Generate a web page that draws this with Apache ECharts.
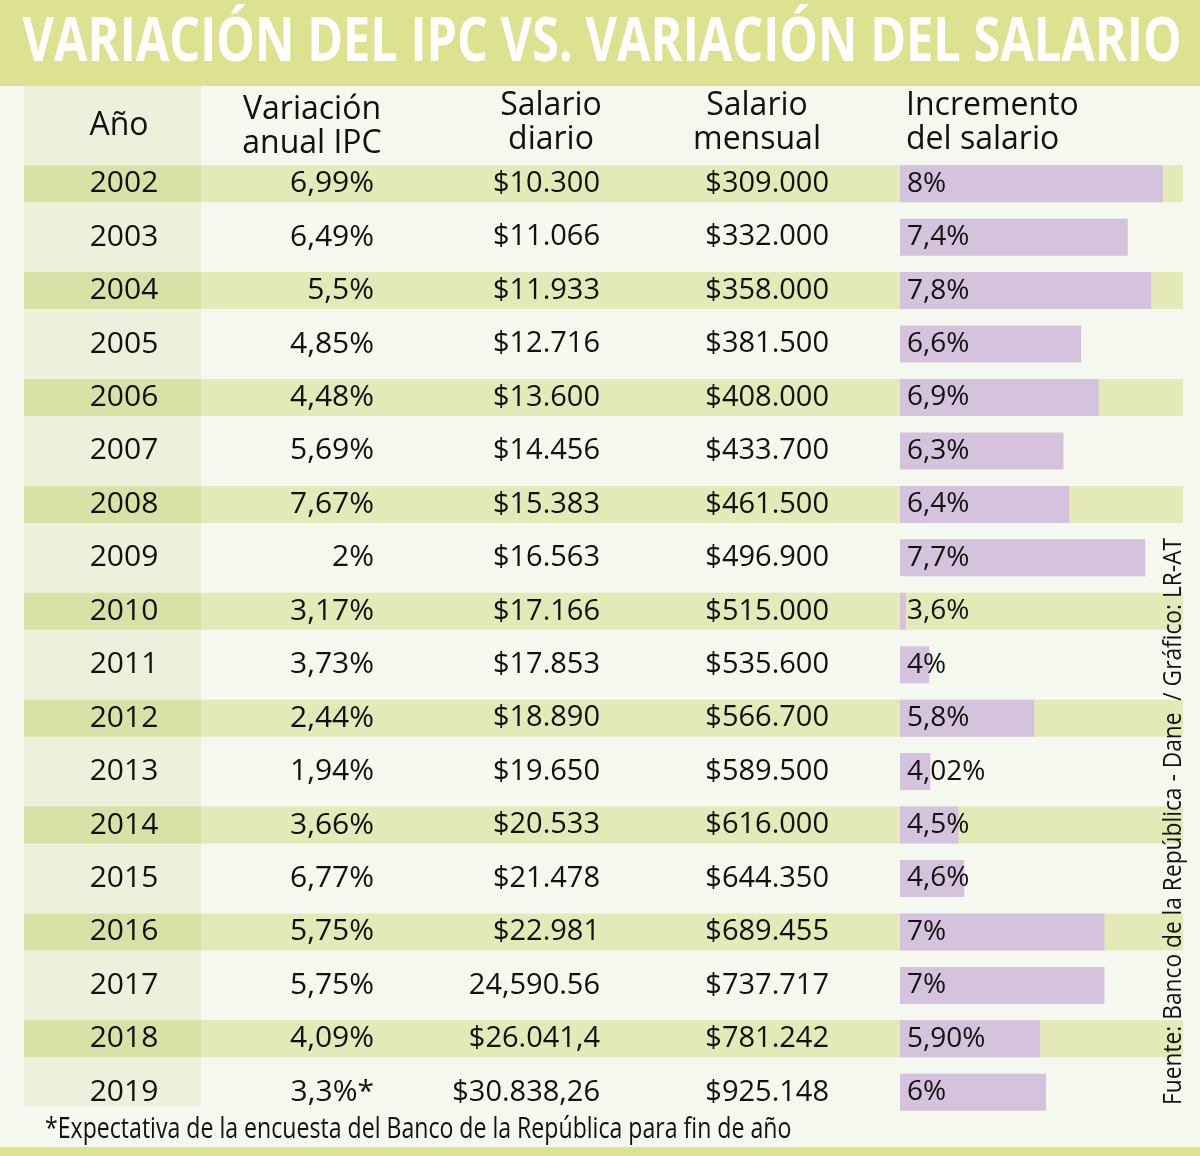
<!DOCTYPE html>
<html>
<head>
<meta charset="utf-8">
<script src="https://cdn.jsdelivr.net/npm/echarts@6/dist/echarts.min.js"></script>
<style>
html,body{margin:0;padding:0;background:#f5f8ee;}
#chart{width:1200px;height:1156px;}
</style>
</head>
<body>
<div id="chart"></div>
<script>
// ---- data ----
var years = ['2002','2003','2004','2005','2006','2007','2008','2009','2010','2011','2012','2013','2014','2015','2016','2017','2018','2019'];
var ipcLabels = ['6,99%','6,49%','5,5%','4,85%','4,48%','5,69%','7,67%','2%','3,17%','3,73%','2,44%','1,94%','3,66%','6,77%','5,75%','5,75%','4,09%','3,3%*'];
var salarioDiario = ['$10.300','$11.066','$11.933','$12.716','$13.600','$14.456','$15.383','$16.563','$17.166','$17.853','$18.890','$19.650','$20.533','$21.478','$22.981','24,590.56','$26.041,4','$30.838,26'];
var salarioMensual = ['$309.000','$332.000','$358.000','$381.500','$408.000','$433.700','$461.500','$496.900','$515.000','$535.600','$566.700','$589.500','$616.000','$644.350','$689.455','$737.717','$781.242','$925.148'];
var incremento = [8, 7.4, 7.8, 6.6, 6.9, 6.3, 6.4, 7.7, 3.6, 4, 5.8, 4.02, 4.5, 4.6, 7, 7, 5.9, 6];
var incrementoLabels = ['8%','7,4%','7,8%','6,6%','6,9%','6,3%','6,4%','7,7%','3,6%','4%','5,8%','4,02%','4,5%','4,6%','7%','7%','5,90%','6%'];
var headers = ['Año', 'Variación\nanual IPC', 'Salario\ndiario', 'Salario\nmensual', 'Incremento\ndel salario'];
var title = 'VARIACIÓN DEL IPC VS. VARIACIÓN DEL SALARIO';
var footnote = '*Expectativa de la encuesta del Banco de la República para fin de año';
var source = 'Fuente: Banco de la República - Dane  / Gráfico: LR-AT';

// ---- layout / style ----
var FONT = 'Open Sans';
var TXT = '#111111';
var GRID_TOP = 157, GRID_H = 962;

var chart = echarts.init(document.getElementById('chart'), null, {renderer: 'canvas'});

function striped(v) { return years.map(function (y, i) { return i % 2 === 0 ? v : '-'; }); }

function textColumn(arr, anchor, pos, size) {
  return {
    type: 'scatter', xAxisIndex: 0, yAxisIndex: 0, silent: true,
    symbolSize: 0, z: 5,
    itemStyle: {opacity: 1},
    data: years.map(function (y) { return [anchor, y]; }),
    label: {
      show: true, position: pos, distance: 0, opacity: 1,
      fontFamily: FONT, fontSize: size, color: TXT,
      formatter: function (p) { return arr[p.dataIndex]; }
    }
  };
}

var option = {
  backgroundColor: '#f5f8ee',
  animation: false,
  grid: [
    {left: 0, right: 0, top: GRID_TOP, height: GRID_H},
    {left: 900, width: 292, top: GRID_TOP, height: GRID_H}
  ],
  xAxis: [
    {gridIndex: 0, type: 'value', min: 0, max: 1200, show: false},
    {gridIndex: 1, type: 'value', min: 3.5, max: 8.5, show: false}
  ],
  yAxis: [
    {gridIndex: 0, type: 'category', data: years, inverse: true, show: false},
    {gridIndex: 1, type: 'category', data: years, inverse: true, show: false}
  ],
  graphic: [
    {type: 'rect', shape: {x: 0, y: 0, width: 1200, height: 86}, style: {fill: '#dde290'}, z: 0},
    {type: 'rect', shape: {x: 24, y: 86, width: 177, height: 1020}, style: {fill: '#ecf1dc'}, z: -1},
    {type: 'rect', shape: {x: 0, y: 1147, width: 1200, height: 9}, style: {fill: '#dde290'}, z: 0},
    {type: 'text', x: 602, y: 44, scaleX: 0.81, z: 10,
      style: {text: title, fill: '#ffffff', font: 'bold 60px "Open Sans"', textAlign: 'center', textVerticalAlign: 'middle'}},
    {type: 'text', x: 119, y: 126, z: 10,
      style: {text: headers[0], fill: TXT, font: '32px "Open Sans"', textAlign: 'center', textVerticalAlign: 'middle'}},
    {type: 'text', x: 312, y: 127, z: 10,
      style: {text: headers[1], fill: TXT, font: '32px "Open Sans"', textAlign: 'center', textVerticalAlign: 'middle', lineHeight: 34}},
    {type: 'text', x: 551, y: 123, z: 10,
      style: {text: headers[2], fill: TXT, font: '32px "Open Sans"', textAlign: 'center', textVerticalAlign: 'middle', lineHeight: 34}},
    {type: 'text', x: 757, y: 123, z: 10,
      style: {text: headers[3], fill: TXT, font: '32px "Open Sans"', textAlign: 'center', textVerticalAlign: 'middle', lineHeight: 34}},
    {type: 'text', x: 906, y: 123, z: 10,
      style: {text: headers[4], fill: TXT, font: '32px "Open Sans"', textAlign: 'left', textVerticalAlign: 'middle', lineHeight: 34}},
    {type: 'text', x: 45, y: 1129, scaleX: 0.77, z: 10,
      style: {text: footnote, fill: TXT, font: '30px "Open Sans"', textAlign: 'left', textVerticalAlign: 'middle'}},
    {type: 'text', x: 1174, y: 1105, rotation: Math.PI / 2, scaleX: 0.91, z: 10,
      style: {text: source, fill: TXT, font: '25px "Open Sans"', textAlign: 'left', textVerticalAlign: 'middle'}}
  ],
  series: [
    {type: 'bar', stack: 'row', xAxisIndex: 0, yAxisIndex: 0, barWidth: 37, silent: true,
      itemStyle: {color: 'rgba(0,0,0,0)'}, data: striped(24)},
    {type: 'bar', stack: 'row', xAxisIndex: 0, yAxisIndex: 0, barWidth: 37, silent: true,
      itemStyle: {color: '#d8e2a7'}, data: striped(177)},
    {type: 'bar', stack: 'row', xAxisIndex: 0, yAxisIndex: 0, barWidth: 37, silent: true,
      itemStyle: {color: '#e3eab8'}, data: striped(982)},
    textColumn(years, 124, 'inside', 30),
    textColumn(ipcLabels, 374, 'left', 30),
    textColumn(salarioDiario, 600, 'left', 29),
    textColumn(salarioMensual, 829, 'left', 29),
    {type: 'bar', xAxisIndex: 1, yAxisIndex: 1, barWidth: 37, silent: true, z: 4,
      data: incremento,
      itemStyle: {color: '#d5c3de'},
      label: {
        show: true, position: 'insideLeft', distance: 7,
        fontFamily: FONT, fontSize: 28, color: TXT,
        formatter: function (p) { return incrementoLabels[p.dataIndex]; }
      }}
  ]
};
chart.setOption(option);
</script>
</body>
</html>
